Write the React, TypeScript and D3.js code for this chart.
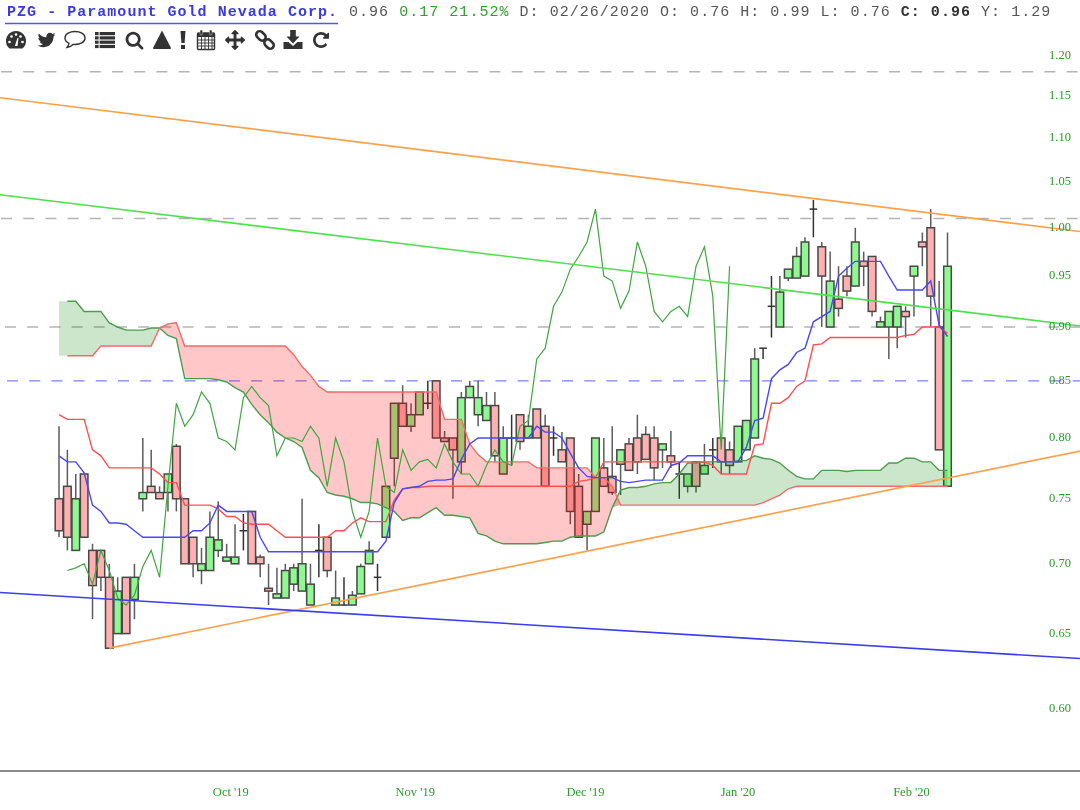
import * as d3 from "d3";
import * as React from "react";

// daily candles, oldest first
const opens = [
  0.75, 0.76, 0.71, 0.77, 0.71, 0.71, 0.69, 0.65, 0.69, 0.674,
  0.75, 0.76, 0.755, 0.755, 0.793, 0.75, 0.72, 0.695, 0.695, 0.71,
  0.702, 0.70, 0.725, 0.74, 0.705, 0.682, 0.675, 0.675, 0.685, 0.68,
  0.67, 0.71, 0.72, 0.67, 0.67, 0.67, 0.678, 0.70, 0.69, 0.72,
  0.783, 0.83, 0.81, 0.82, 0.83, 0.85, 0.80, 0.80, 0.78, 0.835,
  0.82, 0.815, 0.828, 0.77, 0.80, 0.82, 0.80, 0.825, 0.81, 0.80,
  0.79, 0.80, 0.76, 0.73, 0.74, 0.775, 0.768, 0.778, 0.795, 0.80,
  0.803, 0.80, 0.79, 0.785, 0.77, 0.76, 0.78, 0.77, 0.79, 0.80,
  0.79, 0.78, 0.79, 0.80, 0.88, 0.92, 0.90, 0.948, 0.948, 0.95,
  1.02, 0.98, 0.90, 0.927, 0.95, 0.94, 0.965, 0.97, 0.90, 0.90,
  0.90, 0.915, 0.95, 0.985, 1.00, 0.90, 0.76,
];
const highs = [
  0.81, 0.79, 0.77, 0.77, 0.715, 0.71, 0.70, 0.69, 0.69, 0.70,
  0.80, 0.79, 0.76, 0.77, 0.795, 0.75, 0.72, 0.712, 0.74, 0.748,
  0.715, 0.73, 0.738, 0.74, 0.707, 0.70, 0.697, 0.70, 0.70, 0.75,
  0.70, 0.73, 0.72, 0.695, 0.69, 0.68, 0.70, 0.717, 0.70, 0.76,
  0.83, 0.846, 0.83, 0.84, 0.85, 0.85, 0.806, 0.80, 0.84, 0.85,
  0.85, 0.84, 0.84, 0.81, 0.82, 0.82, 0.82, 0.825, 0.82, 0.81,
  0.805, 0.80, 0.77, 0.74, 0.80, 0.80, 0.81, 0.79, 0.80, 0.82,
  0.81, 0.81, 0.795, 0.806, 0.78, 0.77, 0.78, 0.795, 0.80, 0.80,
  0.797, 0.81, 0.815, 0.88, 0.88, 0.95, 0.95, 0.957, 0.98, 0.99,
  1.03, 0.985, 0.975, 0.96, 0.96, 1.00, 0.975, 0.97, 0.91, 0.915,
  0.92, 0.92, 0.96, 0.995, 1.02, 0.945, 0.995,
];
const lows = [
  0.72, 0.71, 0.71, 0.72, 0.66, 0.68, 0.64, 0.65, 0.65, 0.66,
  0.74, 0.755, 0.75, 0.74, 0.74, 0.70, 0.69, 0.685, 0.695, 0.705,
  0.702, 0.70, 0.71, 0.70, 0.69, 0.67, 0.675, 0.675, 0.68, 0.68,
  0.67, 0.69, 0.69, 0.67, 0.67, 0.67, 0.678, 0.70, 0.68, 0.72,
  0.76, 0.81, 0.805, 0.82, 0.825, 0.80, 0.797, 0.75, 0.77, 0.835,
  0.81, 0.815, 0.78, 0.77, 0.777, 0.79, 0.80, 0.80, 0.76, 0.785,
  0.78, 0.73, 0.72, 0.71, 0.74, 0.76, 0.753, 0.753, 0.773, 0.77,
  0.782, 0.765, 0.775, 0.775, 0.75, 0.755, 0.755, 0.77, 0.775, 0.77,
  0.77, 0.78, 0.79, 0.80, 0.87, 0.89, 0.90, 0.945, 0.948, 0.95,
  0.99, 0.90, 0.90, 0.91, 0.93, 0.94, 0.94, 0.91, 0.90, 0.87,
  0.88, 0.89, 0.91, 0.96, 0.90, 0.79, 0.76,
];
const closes = [
  0.725, 0.72, 0.75, 0.72, 0.684, 0.69, 0.64, 0.68, 0.65, 0.69,
  0.755, 0.755, 0.75, 0.77, 0.75, 0.70, 0.70, 0.70, 0.72, 0.718,
  0.705, 0.705, 0.725, 0.70, 0.70, 0.68, 0.678, 0.695, 0.697, 0.70,
  0.685, 0.71, 0.695, 0.675, 0.67, 0.677, 0.698, 0.71, 0.69, 0.76,
  0.83, 0.81, 0.82, 0.84, 0.83, 0.80, 0.797, 0.79, 0.835, 0.845,
  0.835, 0.828, 0.785, 0.80, 0.80, 0.797, 0.81, 0.80, 0.76, 0.80,
  0.78, 0.74, 0.72, 0.74, 0.80, 0.76, 0.755, 0.79, 0.773, 0.78,
  0.782, 0.775, 0.795, 0.78, 0.77, 0.77, 0.76, 0.777, 0.79, 0.78,
  0.777, 0.81, 0.815, 0.87, 0.88, 0.92, 0.934, 0.957, 0.97, 0.985,
  1.02, 0.95, 0.945, 0.918, 0.935, 0.985, 0.96, 0.915, 0.905, 0.915,
  0.92, 0.91, 0.96, 0.98, 0.93, 0.79, 0.96,
];

// ichimoku lines
const tenkan = [
  0.785, 0.78, 0.78, 0.771, 0.745, 0.74, 0.731, 0.731, 0.73, 0.725,
  0.72, 0.72, 0.72, 0.72, 0.72, 0.72, 0.725, 0.725, 0.731, 0.745,
  0.74, 0.74, 0.74, 0.74, 0.72, 0.709, 0.709, 0.709, 0.709, 0.709,
  0.709, 0.709, 0.709, 0.709, 0.709, 0.709, 0.709, 0.709, 0.709, 0.717,
  0.747, 0.758, 0.759, 0.76, 0.764, 0.765, 0.765, 0.766, 0.782, 0.795,
  0.80, 0.80, 0.80, 0.80, 0.80, 0.80, 0.80, 0.81, 0.805, 0.805,
  0.80, 0.787, 0.775, 0.768, 0.767, 0.767, 0.767, 0.764, 0.763, 0.764,
  0.765, 0.765, 0.765, 0.777, 0.779, 0.785, 0.785, 0.785, 0.785, 0.78,
  0.78, 0.78, 0.792, 0.815, 0.817, 0.852, 0.86, 0.865, 0.876, 0.88,
  0.905, 0.91, 0.915, 0.95, 0.958, 0.965, 0.965, 0.965, 0.965, 0.95,
  0.936, 0.936, 0.936, 0.936, 0.945, 0.902, 0.891,
];
const kijun = [
  0.82, 0.816, 0.816, 0.816, 0.79, 0.785, 0.775, 0.775, 0.775, 0.775,
  0.775, 0.775, 0.77, 0.763, 0.763, 0.745, 0.745, 0.745, 0.745, 0.742,
  0.736, 0.736, 0.731, 0.73, 0.73, 0.73, 0.725, 0.72, 0.72, 0.72,
  0.72, 0.72, 0.72, 0.725, 0.725, 0.731, 0.735, 0.732, 0.732, 0.732,
  0.749, 0.758, 0.759, 0.759, 0.76, 0.76, 0.76, 0.76, 0.76, 0.76,
  0.76, 0.76, 0.76, 0.76, 0.76, 0.76, 0.76, 0.76, 0.76, 0.76,
  0.76, 0.76, 0.764, 0.765, 0.767, 0.78, 0.78, 0.78, 0.78, 0.78,
  0.78, 0.78, 0.78, 0.78, 0.78, 0.78, 0.78, 0.78, 0.777, 0.77,
  0.77, 0.77, 0.77, 0.794, 0.795, 0.83, 0.83, 0.835, 0.845, 0.85,
  0.883, 0.884, 0.89, 0.89, 0.89, 0.89, 0.89, 0.89, 0.89, 0.89,
  0.89, 0.892, 0.893, 0.90, 0.90, 0.90, 0.894,
];
const senkouA = [
  0.925, 0.925, 0.925, 0.915, 0.915, 0.915, 0.904, 0.90, 0.897, 0.897,
  0.897, 0.899, 0.899, 0.892, 0.889, 0.852, 0.852, 0.852, 0.852, 0.851,
  0.849, 0.844, 0.84, 0.829, 0.82, 0.813, 0.805, 0.80, 0.797, 0.792,
  0.773, 0.767, 0.755, 0.753, 0.752, 0.75, 0.747, 0.747, 0.746, 0.743,
  0.74, 0.733, 0.735, 0.735, 0.739, 0.743, 0.737, 0.737, 0.736, 0.735,
  0.723, 0.721, 0.717, 0.715, 0.715, 0.715, 0.715, 0.715, 0.716, 0.717,
  0.717, 0.72, 0.721, 0.721, 0.721, 0.724, 0.743, 0.757, 0.759, 0.759,
  0.76, 0.762, 0.763, 0.763, 0.77, 0.779, 0.779, 0.78, 0.78, 0.78,
  0.78, 0.781, 0.781, 0.785, 0.783, 0.782, 0.779, 0.773, 0.768, 0.766,
  0.766, 0.773, 0.773, 0.773, 0.772, 0.773, 0.773, 0.773, 0.773, 0.779,
  0.779, 0.783, 0.783, 0.78, 0.78, 0.773, 0.773,
];
const senkouB = [
  0.873, 0.873, 0.873, 0.873, 0.873, 0.882, 0.882, 0.882, 0.882, 0.882,
  0.882, 0.882, 0.899, 0.903, 0.904, 0.882, 0.882, 0.882, 0.882, 0.882,
  0.882, 0.882, 0.882, 0.882, 0.882, 0.882, 0.882, 0.882, 0.874, 0.863,
  0.855, 0.845, 0.84, 0.84, 0.84, 0.84, 0.84, 0.84, 0.84, 0.84,
  0.84, 0.84, 0.84, 0.84, 0.84, 0.84, 0.816, 0.816, 0.816, 0.795,
  0.786, 0.78, 0.78, 0.78, 0.78, 0.78, 0.78, 0.775, 0.775, 0.775,
  0.775, 0.775, 0.775, 0.775, 0.767, 0.767, 0.76, 0.745, 0.745, 0.745,
  0.745, 0.745, 0.745, 0.745, 0.745, 0.745, 0.745, 0.745, 0.745, 0.745,
  0.745, 0.745, 0.745, 0.745, 0.747, 0.75, 0.753, 0.758, 0.76, 0.76,
  0.76, 0.76, 0.76, 0.76, 0.76, 0.76, 0.76, 0.76, 0.76, 0.76,
  0.76, 0.76, 0.76, 0.76, 0.76, 0.76, 0.76,
];

// the lagging line is the close moved back 26 bars
const CHIKOU_SHIFT = 26;

// axis
const priceTicks = [1.2, 1.15, 1.1, 1.05, 1.0, 0.95, 0.9, 0.85, 0.8, 0.75, 0.7, 0.65, 0.6];
const monthLabels = ["Oct '19", "Nov '19", "Dec '19", "Jan '20", "Feb '20"];
const monthBars = [20.5, 42.5, 62.8, 81, 101.7];

// drawn levels and trend lines, [bar, price] pairs
const grayLevels = [1.18, 1.01, 0.9];
const blueLevels = [0.85];
const orangeTop = [[-7.04, 1.148], [121.84, 0.996]];
const orangeBottom = [[6, 0.64], [121.84, 0.789]];
const greenTrend = [[-7.04, 1.0356], [121.84, 0.901]];
const blueTrend = [[-7.04, 0.679], [121.84, 0.633]];

const width = 1080;
const height = 810;

const x = d3.scaleLinear().domain([0, 106]).range([59, 947.5]);
const y = d3.scaleLog().domain([1.2, 0.6]).range([56, 709]);

const BODY = 7.6;
const WICK = "#5c5c5c";
const EDGE = "#484848";

const seriesLine = (values: number[], start = 0) =>
  d3.line<number>().x((_, i) => x(i + start)).y((d) => y(d))(values);

const trendPath = d3.line<number[]>().x((d) => x(d[0])).y((d) => y(d[1]));

const bars = d3.range(closes.length);
const greenCloud = d3.area<number>()
  .x((i) => x(i))
  .y0((i) => y(senkouA[i]))
  .y1((i) => y(Math.min(senkouA[i], senkouB[i])))(bars);
const redCloud = d3.area<number>()
  .x((i) => x(i))
  .y0((i) => y(senkouB[i]))
  .y1((i) => y(Math.min(senkouA[i], senkouB[i])))(bars);

// FontAwesome style glyphs, 1792 units
const faTwitter = "M1684 408q-67 98-162 167 1 14 1 42 0 130-38 259.5t-115.5 248.5-184.5 210.5-258 146-323 54.5q-271 0-496-145 35 4 78 4 225 0 401-138-105-2-188-64.5t-114-159.5q33 5 61 5 43 0 85-11-112-23-185.5-111.5t-73.5-205.5v-4q68 38 146 41-66-44-105-115t-39-154q0-88 44-163 121 149 294.5 238.5t371.5 99.5q-8-38-8-74 0-134 94.5-228.5t228.5-94.5q140 0 236 102 109-21 205-78-37 115-142 178 92-10 184-50z";
const faSearch = "M1216 832q0-185-131.5-316.5t-316.5-131.5-316.5 131.5-131.5 316.5 131.5 316.5 316.5 131.5 316.5-131.5 131.5-316.5zm512 832q0 52-38 90t-90 38q-54 0-90-38l-343-342q-179 124-399 124-143 0-273.5-55.5t-225-150-150-225-55.5-273.5 55.5-273.5 150-225 225-150 273.5-55.5 273.5 55.5 225 150 150 225 55.5 273.5q0 220-124 399l343 343q37 37 37 90z";
const faArrows = "M1792 896q0 26-19 45l-256 256q-19 19-45 19t-45-19-19-45v-128h-384v384h128q26 0 45 19t19 45-19 45l-256 256q-19 19-45 19t-45-19l-256-256q-19-19-19-45t19-45 45-19h128v-384h-384v128q0 26-19 45t-45 19-45-19l-256-256q-19-19-19-45t19-45l256-256q19-19 45-19t45 19 19 45v128h384v-384h-128q-26 0-45-19t-19-45 19-45l256-256q19-19 45-19t45 19l256 256q19 19 19 45t-19 45-45 19h-128v384h384v-128q0-26 19-45t45-19 45 19l256 256q19 19 19 45z";
const faRotate = "M1664 256v448q0 26-19 45t-45 19h-448q-42 0-59-40-17-39 14-69l138-138q-148-137-349-137-104 0-198.5 40.5t-163.5 109.5-109.5 163.5-40.5 198.5 40.5 198.5 109.5 163.5 163.5 109.5 198.5 40.5q119 0 225-52t179-147q7-10 23-12 15 0 25 9l137 138q9 8 9.5 20.5t-7.5 22.5q-109 132-264 204.5t-327 72.5q-156 0-298-61t-245-164-164-245-61-298 61-298 164-245 245-164 298-61q147 0 284.5 55.5t244.5 156.5l130-129q29-31 70-14 39 17 39 59z";

const ICON = "#333";

function Fa({ cx, d, s = 0.0112 }: { cx: number; d: string; s?: number }) {
  return <path transform={`translate(${cx},40) scale(${s}) translate(-896,-896)`} d={d} fill={ICON} />;
}

function Toolbar() {
  return (
    <g>
      {/* gauge */}
      <g transform="translate(16,40)">
        <path d="M-6.5,8 A10,10 0 1 1 6.5,8 Z" fill={ICON} transform="translate(0,0.5)" />
        <g fill="#fff">
          <circle cx={-6.5} cy={2} r={1.3} />
          <circle cx={-4.5} cy={-3.5} r={1.3} />
          <circle cx={0} cy={-5.5} r={1.3} />
          <circle cx={6.5} cy={2} r={1.3} />
          <circle cx={4.5} cy={-3.5} r={1.3} />
          <path d="M-1.2,6 L1.5,-2 L2.5,-2 L1.5,6 Z" />
        </g>
      </g>
      <Fa cx={46.5} d={faTwitter} />
      {/* comment */}
      <g transform="translate(75,39)">
        <path d="M-10,-1 C-10,-5.5 -5,-7.5 0,-7.5 C5,-7.5 10,-5.5 10,-1 C10,3.5 5,5.5 0,5.5 L-2,5.5 C-3.5,7 -5.5,8.5 -8,8.5 C-7,7.3 -6,6 -6,4.3 C-8.5,3.2 -10,1.2 -10,-1 Z" fill="none" stroke={ICON} strokeWidth={1.4} />
      </g>
      {/* list */}
      <g transform="translate(105,40)" fill={ICON}>
        {d3.range(4).map((r) => (
          <g key={r}>
            <rect x={-10} y={-8 + r * 4.3} width={3.6} height={3.2} />
            <rect x={-5.4} y={-8 + r * 4.3} width={15.4} height={3.2} />
          </g>
        ))}
      </g>
      <Fa cx={134.5} d={faSearch} s={0.0107} />
      <path d="M162,30.5 L171,48 Q171,49 170,49 L154,49 Q153,49 153,48 Z" fill={ICON} />
      {/* exclamation */}
      <g fill={ICON}>
        <path d="M180.5,31 L185.5,31 L184.6,43 L181.4,43 Z" />
        <rect x={181} y={45} width={4} height={4} />
      </g>
      {/* calendar */}
      <g transform="translate(206,40)">
        <rect x={-8.5} y={-7} width={17} height={16.5} fill="none" stroke={ICON} strokeWidth={1.4} rx={1} />
        <rect x={-8.5} y={-7} width={17} height={4} fill={ICON} />
        <rect x={-6} y={-10} width={2.6} height={5} fill={ICON} rx={1} stroke="#fff" strokeWidth={0.4} />
        <rect x={3.4} y={-10} width={2.6} height={5} fill={ICON} rx={1} stroke="#fff" strokeWidth={0.4} />
        <g stroke={ICON} strokeWidth={0.9}>
          {[-4.5, -1, 2.5, 6].map((v) => <line key={"v" + v} x1={v} x2={v} y1={-3} y2={9} />)}
          {[0, 3, 6].map((v) => <line key={"h" + v} x1={-8} x2={8} y1={v} y2={v} />)}
        </g>
      </g>
      <Fa cx={235} d={faArrows} />
      {/* link */}
      <g transform="translate(265,40) rotate(45)" fill="none" stroke={ICON} strokeWidth={2.6}>
        <rect x={-11} y={-3.5} width={10.5} height={7} rx={3.5} />
        <rect x={0.5} y={-3.5} width={10.5} height={7} rx={3.5} />
      </g>
      {/* download */}
      <g transform="translate(293,40)" fill={ICON}>
        <path d="M-2.8,-10 L2.8,-10 L2.8,-3.5 L6.5,-3.5 L0,3.5 L-6.5,-3.5 L-2.8,-3.5 Z" />
        <path d="M-9.5,2 L-4.5,2 L0,6 L4.5,2 L9.5,2 L9.5,9 L-9.5,9 Z" />
      </g>
      <Fa cx={321} d={faRotate} s={0.0104} />
    </g>
  );
}

export default function App() {
  const chikou = closes.slice(CHIKOU_SHIFT + 1);
  return (
    <svg width={width} height={height} style={{ position: "absolute", left: 0, top: 0, background: "#fff", filter: "blur(0.45px)" }}>
      {/* header */}
      <text y={16} fontFamily="'Liberation Mono', monospace" fontSize={15} letterSpacing={1.03} fill="#555" xmlSpace="preserve">
        <tspan x={7} fill="#3a3ae0" fontWeight="bold">PZG - Paramount Gold Nevada Corp.</tspan>
        <tspan x={349}>0.96 </tspan>
        <tspan fill="#2e9e2e">0.17 21.52%</tspan>
        <tspan> D: 02/26/2020 O: 0.76 H: 0.99 L: 0.76 </tspan>
        <tspan fontWeight="bold" fill="#333">C: 0.96</tspan>
        <tspan> Y: 1.29</tspan>
      </text>
      <line x1={5} x2={338} y1={23.5} y2={23.5} stroke="#5555ee" strokeWidth={1.4} />
      <Toolbar />

      {/* levels */}
      {grayLevels.map((p, i) => (
        <line key={p} x1={i === 2 ? 5 : 1} x2={width} y1={y(p)} y2={y(p)} stroke="#b4b4b4" strokeWidth={1.5} strokeDasharray="11,11.2" />
      ))}
      {blueLevels.map((p) => (
        <line key={p} x1={7} x2={width} y1={y(p)} y2={y(p)} stroke="#7f7ff5" strokeWidth={1.4} strokeDasharray="11,11.2" />
      ))}

      {/* candles */}
      {bars.map((i) => {
        const up = closes[i] > opens[i];
        const flat = closes[i] === opens[i];
        const top = y(Math.max(opens[i], closes[i]));
        const bottom = y(Math.min(opens[i], closes[i]));
        return (
          <g key={i}>
            <line x1={x(i)} x2={x(i)} y1={y(highs[i])} y2={y(lows[i])} stroke={flat ? "#333" : WICK} strokeWidth={1.5} />
            {flat ? (
              <line x1={x(i) - BODY / 2} x2={x(i) + BODY / 2} y1={top} y2={top} stroke="#333" strokeWidth={1.5} />
            ) : (
              <rect x={x(i) - BODY / 2} y={top} width={BODY} height={bottom - top} fill={up ? "#90f890" : "#ffb0b0"} stroke={EDGE} strokeWidth={1.5} />
            )}
          </g>
        );
      })}

      {/* cloud sits over the candles */}
      <path d={greenCloud} fill="rgba(0,128,0,0.2)" />
      <path d={redCloud} fill="rgba(255,0,0,0.22)" />
      <path d={seriesLine(senkouA.slice(1), 1)} fill="none" stroke="#4f9a4f" strokeWidth={1.4} />
      <path d={seriesLine(senkouB.slice(1), 1)} fill="none" stroke="#f46a6a" strokeWidth={1.4} />

      {/* tenkan, kijun, lagging close */}
      <path d={seriesLine(chikou, 1)} fill="none" stroke="#3fa63f" strokeWidth={1.2} />
      <path d={seriesLine(kijun)} fill="none" stroke="#ff5050" strokeWidth={1.4} />
      <path d={seriesLine(tenkan)} fill="none" stroke="#4848f5" strokeWidth={1.4} />

      {/* trend lines */}
      <path d={trendPath(orangeTop)} fill="none" stroke="#ffa14d" strokeWidth={1.7} />
      <path d={trendPath(orangeBottom)} fill="none" stroke="#ffa14d" strokeWidth={1.7} />
      <path d={trendPath(greenTrend)} fill="none" stroke="#4fe04f" strokeWidth={1.6} />
      <path d={trendPath(blueTrend)} fill="none" stroke="#3c3cf0" strokeWidth={1.6} />

      {/* axes */}
      <line x1={0} x2={width} y1={771} y2={771} stroke="#8a8a8a" strokeWidth={2} />
      <g fontFamily="'Liberation Serif', serif" fontSize={12.5} fill="#2a9a2a" textAnchor="middle">
        {priceTicks.map((p) => (
          <text key={p} x={1060} y={y(p) + 3}>{p.toFixed(2)}</text>
        ))}
        {monthLabels.map((m, i) => (
          <text key={m} x={x(monthBars[i])} y={796}>{m}</text>
        ))}
      </g>
    </svg>
  );
}
